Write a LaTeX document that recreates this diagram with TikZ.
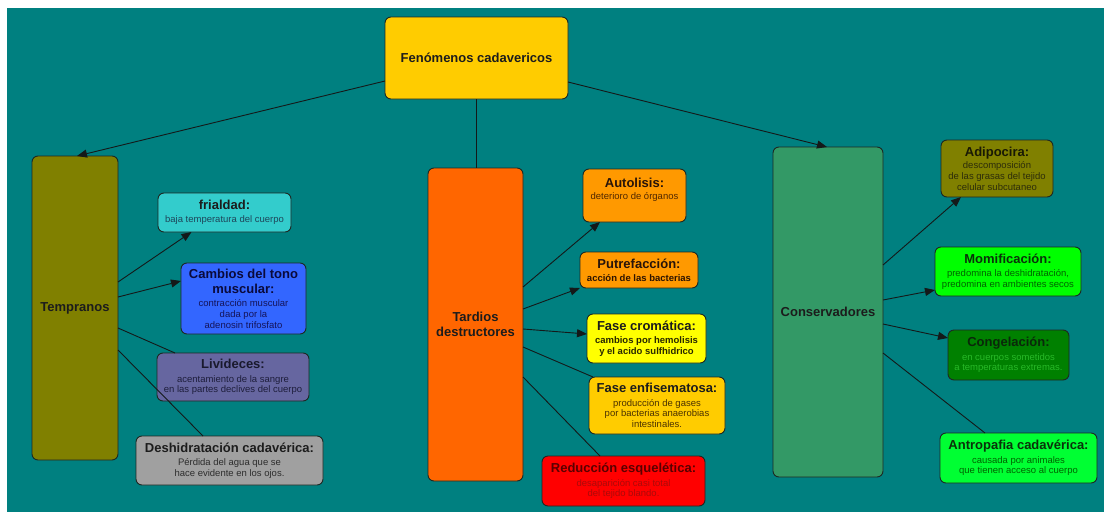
\documentclass[tikz,border=0pt]{standalone}
\usepackage{fontspec}
\setmainfont{Liberation Sans}
\usetikzlibrary{arrows.meta}
\definecolor{bgteal}{RGB}{0,128,128}
\definecolor{boxline}{RGB}{30,40,35}
\definecolor{linec}{RGB}{20,25,25}
\definecolor{tdark}{RGB}{28,28,28}
\definecolor{cRoot}{RGB}{255,204,0}
\definecolor{cOlive}{RGB}{128,128,0}
\definecolor{cFri}{RGB}{51,204,204}
\definecolor{cCam}{RGB}{51,102,255}
\definecolor{cLiv}{RGB}{102,102,160}
\definecolor{cDes}{RGB}{160,160,160}
\definecolor{cTar}{RGB}{255,102,0}
\definecolor{cAut}{RGB}{255,153,0}
\definecolor{cCro}{RGB}{255,255,0}
\definecolor{cEnf}{RGB}{255,204,0}
\definecolor{cRed}{RGB}{255,0,0}
\definecolor{cCon}{RGB}{51,153,102}
\definecolor{cMom}{RGB}{0,255,0}
\definecolor{cCng}{RGB}{0,128,0}
\definecolor{cAnt}{RGB}{0,255,51}
\newcommand{\bodyfont}{\fontsize{9.5}{10.8}\selectfont}
\newcommand{\ttlfont}{\fontsize{13}{15}\selectfont\bfseries}
\newcommand{\ttl}[2][tdark]{{\color{#1}\ttlfont #2}}
\begin{document}
\begin{tikzpicture}[x=1pt,y=-1pt,
  box/.style={draw=boxline, line width=0.9pt, rounded corners=6pt, inner sep=0pt, outer sep=0pt, align=center, font=\bodyfont},
  lbl/.style={inner sep=0pt, outer sep=0pt, align=center, font=\bodyfont},
  arr/.style={draw=linec, line width=0.9pt, -{Triangle[length=10pt,width=8pt]}},
  ln/.style={draw=linec, line width=0.9pt}]
\fill[white] (0,0) rectangle (1104,512);
\fill[bgteal] (7,8) rectangle (1104,512);
\useasboundingbox (0,0) rectangle (1104,512);

% root
\node[box, fill=cRoot, minimum width=183pt, minimum height=82pt] (root) at (476.5,58) {\ttl{Fenómenos cadavericos}};

% main columns
\node[box, fill=cOlive, minimum width=86pt, minimum height=304pt] (temp) at (75,308) {\ttl{Tempranos}};
\node[box, fill=cTar, minimum width=95pt, minimum height=313pt] (tar) at (475.5,324.5) {\ttl{Tardios}\\[4pt]\ttl{destructores}};
\node[box, fill=cCon, minimum width=110pt, minimum height=330pt] (con) at (828,312) {\ttl{Conservadores}};

% Tempranos children
\node[box, fill=cFri, text={rgb,255:red,30;green,70;blue,90}, minimum width=133pt, minimum height=39pt] (fri) at (224.5,212.5)
  {\ttl{frialdad:}\\[2.7pt]baja temperatura del cuerpo};
\node[box, fill=cCam, text={rgb,255:red,20;green,20;blue,90}, minimum width=125pt, minimum height=71pt] (cam) at (243.5,298.5)
  {\ttl[{rgb,255:red,10;green,10;blue,60}]{Cambios del tono}\\[4.2pt]\ttl[{rgb,255:red,10;green,10;blue,60}]{muscular:}\\[2.5pt]contracción muscular\\dada por la\\adenosin trifosfato};
\node[box, fill=cLiv, text={rgb,255:red,30;green,30;blue,60}, minimum width=152pt, minimum height=48pt] (liv) at (233,377)
  {\ttl[{rgb,255:red,25;green,25;blue,45}]{Livideces:}\\[2.7pt]acentamiento de la sangre\\en las partes declives del cuerpo};
\node[box, fill=cDes, text={rgb,255:red,45;green,45;blue,45}, minimum width=187pt, minimum height=49pt] (des) at (229.5,460.5)
  {\ttl{Deshidratación cadavérica:}\\[2.7pt]Pérdida del agua que se\\hace evidente en los ojos.};

% Tardios children
\node[box, fill=cAut, minimum width=103pt, minimum height=53pt] (aut) at (634.5,195.5) {};
\node[lbl, text={rgb,255:red,80;green,40;blue,0}] (autT) at (634.5,189.5)
  {\ttl[{rgb,255:red,40;green,20;blue,10}]{Autolisis:}\\[1.5pt]deterioro de órganos};
\node[box, fill=cAut, text={rgb,255:red,45;green,20;blue,0}, minimum width=118pt, minimum height=36pt] (put) at (639,270)
  {\ttl[{rgb,255:red,40;green,20;blue,10}]{Putrefacción:}\\[2pt]\textbf{acción de las bacterias}};
\node[box, fill=cCro, text={rgb,255:red,40;green,40;blue,0}, minimum width=119pt, minimum height=49pt] (cro) at (646.5,338.5)
  {\ttl{Fase cromática:}\\[2.5pt]\textbf{cambios por hemolisis}\\\textbf{y el acido sulfhidrico}};
\node[box, fill=cEnf, text={rgb,255:red,75;green,50;blue,0}, minimum width=136pt, minimum height=57pt] (enf) at (657,405.5)
  {\ttl{Fase enfisematosa:}\\[2.5pt]producción de gases\\por bacterias anaerobias\\intestinales.};
\node[box, fill=cRed, text={rgb,255:red,170;green,10;blue,10}, minimum width=163pt, minimum height=50pt] (red) at (623.5,481)
  {\ttl[{rgb,255:red,90;green,0;blue,0}]{Reducción esquelética:}\\[2.7pt]desaparición casi total\\del tejido blando.};

% Conservadores children
\node[box, fill=cOlive, text={rgb,255:red,45;green,45;blue,10}, minimum width=112pt, minimum height=57pt] (adi) at (997,168.5)
  {\ttl[{rgb,255:red,25;green,25;blue,5}]{Adipocira:}\\[1.5pt]descomposición\\de las grasas del tejido\\celular subcutaneo};
\node[box, fill=cMom, text={rgb,255:red,0;green,100;blue,0}, minimum width=146pt, minimum height=49pt] (mom) at (1008,271.5)
  {\ttl[{rgb,255:red,10;green,50;blue,10}]{Momificación:}\\[2.7pt]predomina la deshidratación,\\predomina en ambientes secos};
\node[box, fill=cCng, text={rgb,255:red,40;green,185;blue,40}, minimum width=121pt, minimum height=50pt] (cng) at (1008.5,355)
  {\ttl[{rgb,255:red,10;green,40;blue,10}]{Congelación:}\\[2.7pt]en cuerpos sometidos\\a temperaturas extremas.};
\node[box, fill=cAnt, text={rgb,255:red,0;green,100;blue,0}, minimum width=157pt, minimum height=50pt] (ant) at (1018.5,458)
  {\ttl[{rgb,255:red,10;green,50;blue,10}]{Antropafia cadavérica:}\\[2.7pt]causada por animales\\que tienen acceso al cuerpo};

% root connectors
\draw[arr] ([yshift=-23pt]root.west) -- ([xshift=2pt]temp.north);
\draw[arr] ([yshift=-24pt]root.east) -- ([xshift=-1pt]con.north);
\draw[ln] (root.south) -- (root.south |- tar.north);

% Tempranos connectors
\draw[arr] ([yshift=26pt]temp.east) -- ([xshift=-33pt]fri.south);
\draw[arr] ([yshift=11pt]temp.east) -- ([yshift=17.5pt]cam.west);
\draw[ln] ([yshift=-20pt]temp.east) -- ([xshift=-58pt]liv.north);
\draw[ln] ([yshift=-42pt]temp.east) -- ([xshift=-26.5pt]des.north);

% Tardios connectors
\draw[arr] ([yshift=37.5pt]tar.east) -- ([xshift=-34.5pt]aut.south);
\draw[arr] ([yshift=15.5pt]tar.east) -- (put.south west);
\draw[arr] ([yshift=-4.5pt]tar.east) -- ([yshift=4.5pt]cro.west);
\draw[ln] ([yshift=-22.5pt]tar.east) -- ([xshift=4pt]enf.north west);
\draw[ln] ([yshift=-52.5pt]tar.east) -- ([xshift=-23.5pt]red.north);

% Conservadores connectors
\draw[arr] ([yshift=47pt]con.east) -- ([xshift=-36pt]adi.south);
\draw[arr] ([yshift=12pt]con.east) -- ([yshift=-18.5pt]mom.west);
\draw[arr] ([yshift=-12pt]con.east) -- ([yshift=17pt]cng.west);
\draw[ln] ([yshift=-41pt]con.east) -- ([xshift=-33.5pt]ant.north);
\end{tikzpicture}
\end{document}
